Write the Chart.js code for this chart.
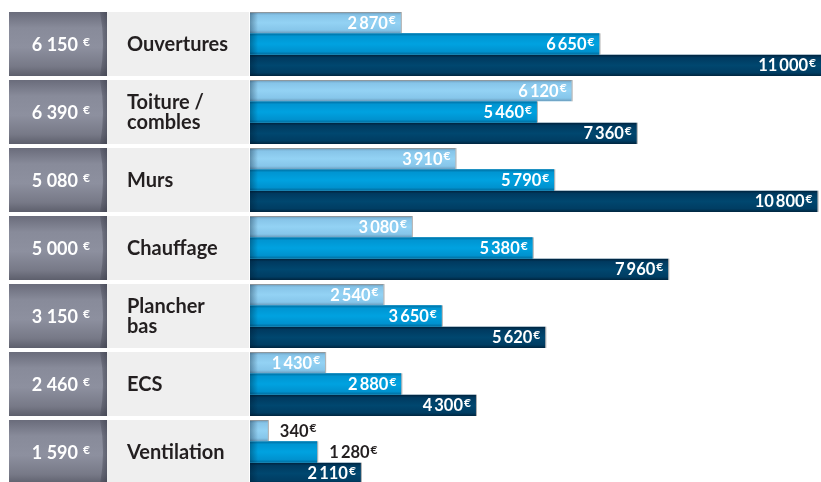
<!DOCTYPE html>
<html>
<head>
<meta charset="utf-8">
<script src="https://cdn.jsdelivr.net/npm/chart.js@4.4.1/dist/chart.umd.min.js"></script>
<style>
  html, body { margin: 0; padding: 0; background: #ffffff; overflow: hidden; }
  #wrap { width: 821px; height: 490px; position: relative; }
</style>
</head>
<body>
<div id="wrap"><canvas id="c" width="821" height="490"></canvas></div>
<script>
// ---- Data ----
const categories = ["Ouvertures", ["Toiture /", "combles"], "Murs", "Chauffage", ["Plancher", "bas"], "ECS", "Ventilation"];
const totals = [6150, 6390, 5080, 5000, 3150, 2460, 1590];
const seriesLight = [2870, 6120, 3910, 3080, 2540, 1430, 340];
const seriesMedium = [6650, 5460, 5790, 5380, 3650, 2880, 1280];
const seriesDark = [11000, 7360, 10800, 7960, 5620, 4300, 2110];

const FONT = "Lato, 'Open Sans', sans-serif";

function fmt(v, sep) {
  const s = String(Math.round(v));
  return s.replace(/\B(?=(\d{3})+(?!\d))/g, sep);
}

const stops = [
  [[0, '#6b97b6'], [0.14, '#86c4e8'], [0.5, '#93d2f4'], [0.85, '#86c6ea'], [1, '#6a9bbb']],
  [[0, '#006d9f'], [0.14, '#0095d2'], [0.5, '#00a2e0'], [0.85, '#0092cf'], [1, '#006b9c']],
  [[0, '#00213b'], [0.14, '#003a60'], [0.5, '#00476f'], [0.85, '#003d63'], [1, '#00253f']]
];

// Left panel: grey total boxes + category label area
const leftPanel = {
  id: 'leftPanel',
  beforeDatasetsDraw(chart) {
    const ctx = chart.ctx;
    const y = chart.scales.y;
    const half = y.getPixelForValue(1) - y.getPixelForValue(0);
    const gh = half * chart.options.datasets.bar.categoryPercentage;
    ctx.save();
    categories.forEach((cat, i) => {
      const cy = y.getPixelForValue(i);
      const top = cy - gh / 2, bot = cy + gh / 2;
      // label area
      ctx.fillStyle = '#efefef';
      ctx.fillRect(107, top, 142, gh);
      // grey box
      const g = ctx.createLinearGradient(0, top, 0, bot);
      g.addColorStop(0, '#6a6c7b');
      g.addColorStop(0.25, '#888b9a');
      g.addColorStop(0.55, '#8d909f');
      g.addColorStop(0.85, '#777987');
      g.addColorStop(1, '#5d5f6c');
      ctx.fillStyle = g;
      ctx.fillRect(9, top, 98, gh);
      // right bevel crescent
      const g2 = ctx.createLinearGradient(99, 0, 107, 0);
      g2.addColorStop(0, 'rgba(40,42,55,0.15)');
      g2.addColorStop(1, 'rgba(40,42,55,0.45)');
      ctx.fillStyle = g2;
      ctx.beginPath();
      ctx.moveTo(100, top);
      ctx.quadraticCurveTo(106, cy, 100, bot);
      ctx.lineTo(107, bot);
      ctx.lineTo(107, top);
      ctx.closePath();
      ctx.fill();
      // total text
      ctx.fillStyle = '#ffffff';
      ctx.textBaseline = 'alphabetic';
      ctx.font = 'bold 12px ' + FONT;
      ctx.textAlign = 'right';
      ctx.fillText('€', 90, cy + 1.5);
      ctx.font = 'bold 18px ' + FONT;
      ctx.fillText(fmt(totals[i], ' '), 78, cy + 6.5);
      // category label
      ctx.fillStyle = '#231f20';
      ctx.font = 'bold 20px ' + FONT;
      ctx.textAlign = 'left';
      const lines = Array.isArray(cat) ? cat : [cat];
      const lh = 20;
      lines.forEach((ln, k) => {
        const by = cy + 7 + (k - (lines.length - 1) / 2) * lh;
        ctx.fillText(ln, 127, by);
      });
    });
    ctx.restore();
  }
};

// Shading + value labels on the bars
const barDecor = {
  id: 'barDecor',
  afterDatasetsDraw(chart) {
    const ctx = chart.ctx;
    const area = chart.chartArea;
    ctx.save();
    chart.data.datasets.forEach((ds, di) => {
      const meta = chart.getDatasetMeta(di);
      meta.data.forEach((bar, i) => {
        const p = bar.getProps(['x', 'y', 'base', 'height'], true);
        const left = p.base, right = Math.min(p.x, area.right);
        const top = p.y - p.height / 2, h = p.height;
        ctx.save();
        ctx.beginPath();
        ctx.rect(left, top, right - left, h);
        ctx.clip();
        // vertical shading
        const g = ctx.createLinearGradient(0, top, 0, top + h);
        stops[di].forEach(s => g.addColorStop(s[0], s[1]));
        ctx.fillStyle = g;
        ctx.fillRect(left, top, right - left, h);
        // darker left edge
        const gl = ctx.createLinearGradient(left, 0, left + 8, 0);
        gl.addColorStop(0, 'rgba(0,20,40,0.35)');
        gl.addColorStop(1, 'rgba(0,20,40,0)');
        ctx.fillStyle = gl;
        ctx.fillRect(left, top, 8, h);
        ctx.restore();
        // thin grey outline top/right
        ctx.strokeStyle = 'rgba(150,150,150,0.8)';
        ctx.lineWidth = 1;
        ctx.beginPath();
        if (di === 0) { ctx.moveTo(left, top + 0.5); ctx.lineTo(right, top + 0.5); }
        if (right < area.right) { ctx.moveTo(right + 0.5, top); ctx.lineTo(right + 0.5, top + h); }
        ctx.stroke();

        // labels
        const v = ds.data[i];
        const txt = fmt(v, '\u2009');
        ctx.font = 'bold 16.5px ' + FONT;
        const tw = ctx.measureText(txt).width;
        ctx.font = 'bold 12px ' + FONT;
        const ew = ctx.measureText('€').width;
        const total = tw + 1 + ew;
        const inside = (right - left) > total + 24;
        const by = p.y + 6;
        let endX;
        if (inside) {
          endX = right - 5;
          ctx.fillStyle = '#ffffff';
        } else {
          endX = right + 12 + total;
          ctx.fillStyle = '#231f20';
        }
        ctx.textAlign = 'right';
        ctx.textBaseline = 'alphabetic';
        ctx.font = 'bold 12px ' + FONT;
        ctx.fillText('€', endX, by - 4.5);
        ctx.font = 'bold 16.5px ' + FONT;
        ctx.fillText(txt, endX - ew - 1, by);
      });
    });
    ctx.restore();
  }
};

new Chart(document.getElementById('c'), {
  type: 'bar',
  data: {
    labels: categories,
    datasets: [
      { label: 'A', data: seriesLight, backgroundColor: '#8ccbee' },
      { label: 'B', data: seriesMedium, backgroundColor: '#009ddb' },
      { label: 'C', data: seriesDark, backgroundColor: '#00436b' }
    ]
  },
  options: {
    indexAxis: 'y',
    responsive: false,
    animation: false,
    events: [],
    layout: { padding: { left: 250, right: 0, top: 10, bottom: 4 } },
    datasets: { bar: { categoryPercentage: 64 / 68, barPercentage: 1 } },
    scales: {
      x: { display: false, min: 0, max: 10866 },
      y: { display: false }
    },
    plugins: { legend: { display: false }, tooltip: { enabled: false } }
  },
  plugins: [leftPanel, barDecor]
});
</script>
</body>
</html>
